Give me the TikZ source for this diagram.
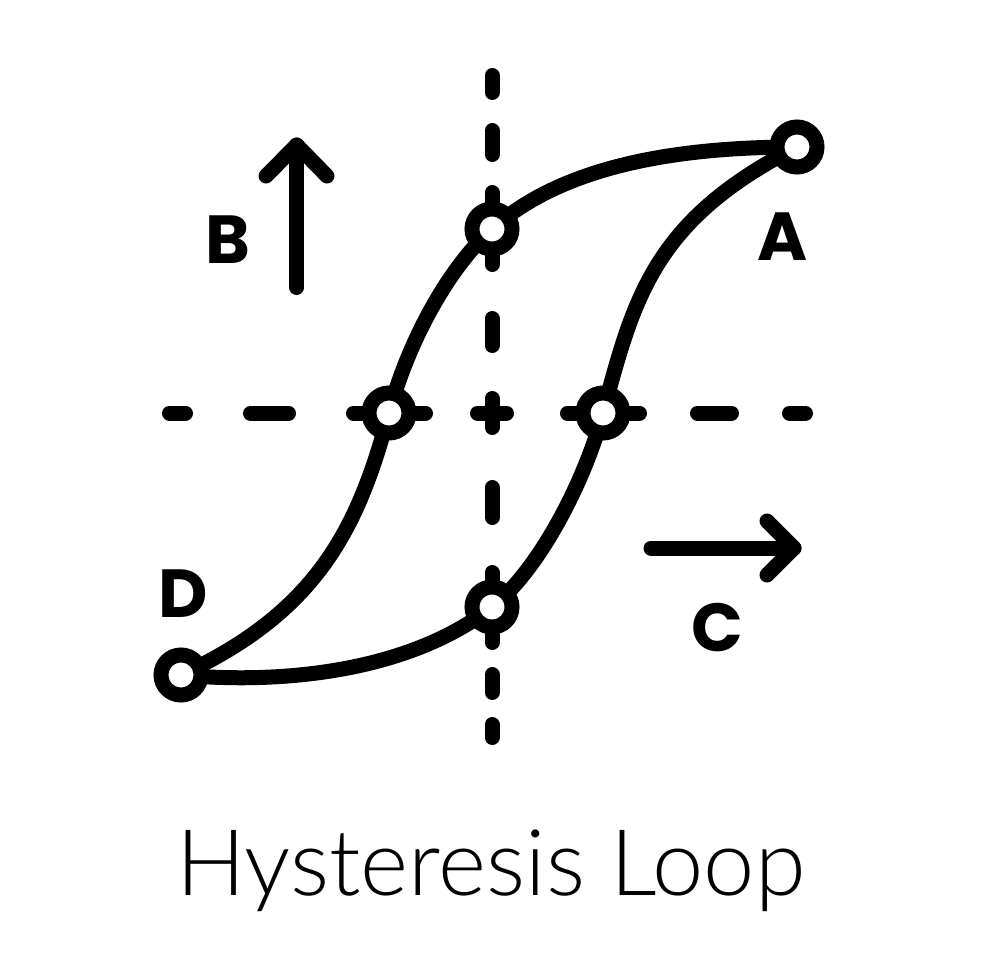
\documentclass[tikz,border=0pt]{standalone}
\usepackage{fontspec}
\newfontfamily\lblfont{Poppins}
\newfontfamily\ttlfont{Lato}[UprightFont=* Light]
\usetikzlibrary{backgrounds}
\tikzset{
  ink/.style={line width=15pt, line cap=round, line join=round, draw=black},
  ring/.style={circle, draw=black, line width=15pt, fill=white, minimum size=40pt, inner sep=0pt},
  lbl/.style={inner sep=0pt, font=\lblfont\bfseries\fontsize{68}{68}\selectfont},
  ttl/.style={inner sep=0pt, font=\ttlfont\fontsize{92}{92}\selectfont},
}
\begin{document}
\begin{tikzpicture}[x=1pt,y=-1pt]
\useasboundingbox (0,0) rectangle (980,980);
% loop points
\node[ring] (D)  at (181,675) {};
\node[ring] (L)  at (389,413) {};
\node[ring] (T)  at (492,229) {};
\node[ring] (A)  at (797,147) {};
\node[ring] (R)  at (603,413) {};
\node[ring] (Bt) at (492,607) {};
\begin{scope}[on background layer]
  % vertical dashed axis
  \foreach \a/\b in {75.5/92.5,130.5/154.5,192.5/264.5,318.5/345.5,398.5/427.5,487.5/517.5,572.5/642.5,674.5/692.5,724.5/737.5}
    \draw[ink] (492,\a) -- (492,\b);
  % horizontal dashed axis
  \foreach \a/\b in {169.5/185.5,250.5/288.5,353.5/425.5,477.5/506.5,567.5/639.5,697.5/731.5,789.5/805.5}
    \draw[ink] (\a,413) -- (\b,413);
  % upper branch
  \draw[ink] (D.center) .. controls (317,612) and (358,529) .. (L.center)
     .. controls (407,345) and (447,269) .. (T.center)
     .. controls (559,169) and (667,147) .. (A.center);
  % lower branch
  \draw[ink] (A.center) .. controls (654,220) and (634,297) .. (R.center)
     .. controls (585,481) and (539,570) .. (Bt.center)
     .. controls (413,669) and (290,685) .. (D.center);
\end{scope}
% arrow B
\coordinate (Bs) at (296.7,287.5);
\coordinate (Bh) at (296.7,145);
\draw[ink] (Bs) -- (Bh);
\draw[ink] (266,176) -- (Bh) -- (327,176);
% arrow C
\coordinate (Cs) at (651,548);
\coordinate (Ch) at (794,548);
\draw[ink] (Cs) -- (Ch);
\draw[ink] (767,521) -- (Ch) -- (767,575);
% labels
\node[lbl] (lA) at (783,237) {A};
\node[lbl] (lB) at (228,240) {B};
\node[lbl] (lC) at (717,628) {C};
\node[lbl] (lD) at (183,594) {D};
% title
\node[ttl, anchor=base] (title) at (491,895) {Hysteresis Loop};
\end{tikzpicture}
\end{document}
